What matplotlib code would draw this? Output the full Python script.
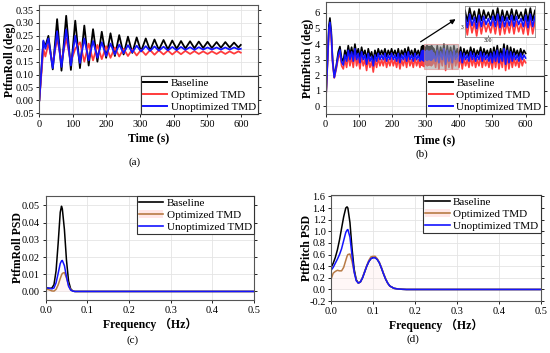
import numpy as np
import matplotlib
matplotlib.use('Agg')
import matplotlib.pyplot as plt
from matplotlib.patches import Patch, Rectangle
from matplotlib.lines import Line2D

plt.rcParams['font.family'] = ['Liberation Serif', 'Noto Sans CJK SC']
plt.rcParams['axes.unicode_minus'] = True

###############################################################################
# data
###############################################################################
labels = ['Baseline', 'Optimized TMD', 'Unoptimized TMD']

# (a) platform roll, extrema
roll_time = [0, 12, 18, 27, 40, 53, 66, 80, 94, 107, 121, 134, 147, 160, 173, 186,
             199, 212, 225, 238, 251, 264, 277, 290, 303, 317, 330, 343, 356, 370,
             383, 396, 409, 422, 435, 449, 462, 475, 488, 501, 514, 528, 541, 554,
             567, 580, 593, 600]
roll_base = [0, 0.228, 0.21, 0.25, 0.12, 0.315, 0.115, 0.328, 0.118, 0.309, 0.125,
             0.29, 0.135, 0.276, 0.15, 0.266, 0.165, 0.26, 0.172, 0.253, 0.178,
             0.247, 0.184, 0.244, 0.19, 0.24, 0.193, 0.236, 0.196, 0.234, 0.198,
             0.232, 0.2, 0.23, 0.201, 0.229, 0.202, 0.228, 0.203, 0.227, 0.203,
             0.226, 0.204, 0.226, 0.205, 0.224, 0.205, 0.215]
roll_opt = [0, 0.2, 0.17, 0.22, 0.14, 0.24, 0.15, 0.24, 0.15, 0.2, 0.225, 0.15,
            0.22, 0.155, 0.215, 0.16, 0.21, 0.165, 0.205, 0.17, 0.2, 0.172, 0.198,
            0.174, 0.196, 0.176, 0.195, 0.177, 0.194, 0.178, 0.193, 0.178, 0.192,
            0.179, 0.192, 0.18, 0.191, 0.18, 0.19, 0.18, 0.19, 0.18, 0.19, 0.18,
            0.19, 0.181, 0.19, 0.185]
roll_unopt = [0, 0.232, 0.2, 0.24, 0.125, 0.268, 0.13, 0.275, 0.135, 0.25, 0.145,
              0.24, 0.155, 0.23, 0.165, 0.225, 0.172, 0.22, 0.178, 0.216, 0.183,
              0.214, 0.186, 0.212, 0.19, 0.21, 0.192, 0.209, 0.193, 0.208, 0.194,
              0.207, 0.195, 0.207, 0.196, 0.206, 0.196, 0.206, 0.197, 0.205, 0.197,
              0.205, 0.197, 0.205, 0.197, 0.205, 0.198, 0.2]

# (b) platform pitch: start-up transient, then oscillating band
pitch_t0 = [0, 5, 10, 13, 17, 21, 26, 32, 38, 43, 48, 53]
pitch_base0 = [0, 2.6, 5.2, 5.68, 4.8, 3.0, 1.88, 2.6, 3.5, 3.84, 3.1, 2.88]
pitch_opt0 = [0, 2.4, 4.8, 5.15, 4.4, 2.8, 1.82, 2.4, 3.1, 3.4, 2.6, 2.4]
pitch_unopt0 = [0, 2.5, 5.0, 5.4, 4.6, 2.9, 1.85, 2.5, 3.3, 3.62, 2.85, 2.65]

# samples every 5 s from 58 s
pitch_base1 = [3.6, 3.2, 3.9, 3.3, 3.8, 3.2, 4.0, 3.3, 3.7, 3.1,
               3.8, 3.3, 3.6, 3.0, 3.7, 3.2, 3.5, 2.9, 3.6, 3.2,
               3.7, 3.3, 3.6, 3.3, 3.7, 3.2, 3.6, 3.3, 3.7, 3.3,
               3.6, 3.2, 3.7, 3.1, 3.6, 3.3, 3.7, 3.2, 3.8, 3.3,
               3.6, 3.2, 3.7, 3.3, 3.6, 3.2]
pitch_opt1 = [3.0, 2.5, 3.3, 2.6, 3.2, 2.5, 3.4, 2.6, 3.1, 2.4,
              3.2, 2.6, 3.0, 2.3, 3.1, 2.5, 2.9, 2.2, 3.0, 2.5,
              3.1, 2.6, 3.0, 2.6, 3.1, 2.5, 3.0, 2.6, 3.1, 2.6,
              3.0, 2.5, 3.1, 2.4, 3.0, 2.6, 3.1, 2.5, 3.2, 2.6,
              3.0, 2.5, 3.1, 2.6, 3.0, 2.5]
pitch_unopt1 = [3.3, 2.9, 3.6, 3.0, 3.5, 2.9, 3.7, 3.0, 3.4, 2.8,
                3.5, 3.0, 3.3, 2.7, 3.4, 2.9, 3.2, 2.6, 3.3, 2.9,
                3.4, 3.0, 3.3, 3.0, 3.4, 2.9, 3.3, 3.0, 3.4, 3.0,
                3.3, 2.9, 3.4, 2.8, 3.3, 3.0, 3.4, 2.9, 3.5, 3.0,
                3.3, 2.9, 3.4, 3.0, 3.3, 2.9]

# detail window (zoomed inset), every 1 s from 288 s
pitch_base2 = [3.85, 3.3, 3.8, 3.25, 3.9, 3.35, 3.75, 3.2, 3.85, 3.3,
               3.8, 3.4, 3.7, 3.35, 3.8, 3.3, 3.9, 3.25, 3.8, 3.3,
               3.75, 3.35, 3.85, 3.3, 3.8, 3.4, 3.7, 3.3, 3.85, 3.25,
               3.9, 3.3, 3.8, 3.35, 3.75]
pitch_opt2 = [3.3, 2.65, 3.25, 2.6, 3.35, 2.7, 3.2, 2.55, 3.3, 2.65,
              3.25, 2.75, 3.15, 2.7, 3.25, 2.65, 3.35, 2.6, 3.25, 2.65,
              3.2, 2.7, 3.3, 2.65, 3.25, 2.75, 3.15, 2.65, 3.3, 2.6,
              3.35, 2.65, 3.25, 2.7, 3.2]
pitch_unopt2 = [3.55, 3.0, 3.5, 2.95, 3.6, 3.05, 3.45, 2.9, 3.55, 3.0,
                3.5, 3.1, 3.4, 3.05, 3.5, 3.0, 3.6, 2.95, 3.5, 3.0,
                3.45, 3.05, 3.55, 3.0, 3.5, 3.1, 3.4, 3.0, 3.55, 2.95,
                3.6, 3.0, 3.5, 3.05, 3.45]

# samples every 5 s from 325 s
pitch_base3 = [3.7, 3.2, 3.9, 3.1, 3.8, 3.3, 4.0, 3.0, 3.9, 3.2,
               3.8, 3.1, 3.9, 3.3, 3.7, 3.2, 3.8, 3.1, 3.7, 3.3,
               3.6, 3.2, 3.8, 3.3, 3.7, 3.2, 3.6, 3.3, 3.8, 3.2,
               3.7, 3.3, 3.6, 3.2, 3.7, 3.1, 3.8, 3.2, 3.9, 3.1,
               3.7, 3.2, 4.0, 3.0, 3.9, 3.1, 3.8, 3.2, 3.7, 3.3,
               3.6, 3.2, 3.7, 3.3, 3.6, 3.4]
pitch_opt3 = [3.1, 2.5, 3.3, 2.4, 3.2, 2.6, 3.4, 2.3, 3.3, 2.5,
              3.2, 2.4, 3.3, 2.6, 3.1, 2.5, 3.2, 2.4, 3.1, 2.6,
              3.0, 2.5, 3.2, 2.6, 3.1, 2.5, 3.0, 2.6, 3.2, 2.5,
              3.1, 2.6, 3.0, 2.5, 3.1, 2.4, 3.2, 2.5, 3.3, 2.4,
              3.1, 2.5, 3.4, 2.3, 3.3, 2.4, 3.2, 2.5, 3.1, 2.6,
              3.0, 2.5, 3.1, 2.6, 3.0, 2.8]
pitch_unopt3 = [3.4, 2.9, 3.6, 2.8, 3.5, 3.0, 3.7, 2.7, 3.6, 2.9,
                3.5, 2.8, 3.6, 3.0, 3.4, 2.9, 3.5, 2.8, 3.4, 3.0,
                3.3, 2.9, 3.5, 3.0, 3.4, 2.9, 3.3, 3.0, 3.5, 2.9,
                3.4, 3.0, 3.3, 2.9, 3.4, 2.8, 3.5, 2.9, 3.6, 2.8,
                3.4, 2.9, 3.7, 2.7, 3.6, 2.8, 3.5, 2.9, 3.4, 3.0,
                3.3, 2.9, 3.4, 3.0, 3.3, 3.1]

# (c) roll PSD
roll_freq = [0, 0.005, 0.01, 0.015, 0.02, 0.025, 0.03, 0.035, 0.038, 0.04, 0.045,
             0.05, 0.055, 0.06, 0.065, 0.07, 0.08, 0.5]
roll_psd_base = [0.0022, 0.002, 0.0018, 0.002, 0.004, 0.012, 0.028, 0.046, 0.0495,
                 0.048, 0.036, 0.018, 0.006, 0.0015, 0.0003, 0, 0, 0]
roll_psd_opt = [0.0012, 0.0012, 0.0008, 0.0003, 0.0002, 0.0012, 0.0038, 0.0075,
                0.0095, 0.0105, 0.011, 0.0078, 0.0035, 0.001, 0.0002, 0, 0, 0]
roll_psd_unopt = [0.0022, 0.002, 0.0018, 0.0015, 0.002, 0.005, 0.0105, 0.0162,
                  0.0177, 0.018, 0.015, 0.0085, 0.003, 0.0008, 0.0002, 0, 0, 0]

# (d) pitch PSD
pitch_freq = [0, 0.005, 0.01, 0.015, 0.02, 0.025, 0.03, 0.035, 0.038, 0.04, 0.045,
              0.05, 0.055, 0.06, 0.065, 0.07, 0.075, 0.08, 0.085, 0.09, 0.095, 0.1,
              0.105, 0.11, 0.115, 0.12, 0.125, 0.13, 0.135, 0.14, 0.15, 0.16, 0.17,
              0.18, 0.5]
pitch_psd_base = [0.38, 0.45, 0.55, 0.68, 0.85, 1.05, 1.25, 1.4, 1.42, 1.4, 1.15,
                  0.7, 0.35, 0.17, 0.11, 0.13, 0.2, 0.3, 0.4, 0.48, 0.53, 0.55, 0.55,
                  0.52, 0.46, 0.37, 0.27, 0.18, 0.11, 0.06, 0.02, 0.008, 0.003, 0, 0]
pitch_psd_opt = [0.18, 0.28, 0.31, 0.33, 0.32, 0.32, 0.38, 0.5, 0.57, 0.6, 0.61,
                 0.48, 0.3, 0.16, 0.11, 0.13, 0.21, 0.31, 0.41, 0.5, 0.56, 0.57,
                 0.57, 0.53, 0.47, 0.38, 0.28, 0.19, 0.11, 0.06, 0.02, 0.008, 0.003,
                 0, 0]
pitch_psd_unopt = [0.33, 0.38, 0.45, 0.52, 0.6, 0.7, 0.84, 0.98, 1.02, 1.03, 0.9,
                   0.58, 0.3, 0.15, 0.11, 0.13, 0.2, 0.3, 0.4, 0.48, 0.53, 0.545,
                   0.545, 0.515, 0.46, 0.37, 0.27, 0.18, 0.11, 0.06, 0.02, 0.008,
                   0.003, 0, 0]

###############################################################################
# styles
###############################################################################
c_base = '#000000'
c_opt = '#ff3b3b'
c_unopt = '#1414ff'
c_opt_psd = '#b87a45'
pink = '#ffe6e6'

tick_fs = 7.5
label_fs = 8.5
leg_fs = 8


def pitch_series(v0, v1, v2, v3):
    t = np.concatenate([pitch_t0,
                        58 + 5 * np.arange(len(v1)),
                        288 + np.arange(len(v2)),
                        325 + 5 * np.arange(len(v3))])
    v = np.concatenate([v0, v1, v2, v3])
    return t, v


def style(ax):
    ax.grid(True, color='#e4e4e4', lw=0.6)
    ax.set_axisbelow(True)
    ax.tick_params(labelsize=tick_fs, direction='out', length=2.5, width=0.6,
                   right=True, top=False, pad=1.5)
    for s in ax.spines.values():
        s.set_color('#555555')
        s.set_linewidth(0.8)


def labels_xy(ax, xlabel, ylabel, xpos, ypos):
    ax.set_xlabel(xlabel, fontsize=label_fs, fontweight='bold')
    ax.set_ylabel(ylabel, fontsize=label_fs, fontweight='bold')
    ax.xaxis.set_label_coords(0.5, xpos)
    ax.yaxis.set_label_coords(ypos, 0.5)
    ax.xaxis.label.set_va('center')
    ax.yaxis.label.set_va('center')


def legend(ax, handles, loc):
    lg = ax.legend(handles, labels, loc=loc, fontsize=leg_fs, frameon=True,
                   fancybox=False, framealpha=1, edgecolor='#333333',
                   borderaxespad=0, borderpad=0.2, handlelength=2.2,
                   handletextpad=0.3, labelspacing=0.2)
    lg.get_frame().set_linewidth(0.8)


fig = plt.figure(figsize=(5.5, 3.53), dpi=100)

# (a)
ax = fig.add_axes([0.0715, 0.677, 0.398, 0.309])
style(ax)
ax.plot(roll_time, roll_base, color=c_base, lw=1.3)
ax.plot(roll_time, roll_opt, color=c_opt, lw=1.3)
ax.plot(roll_time, roll_unopt, color=c_unopt, lw=1.3)
ax.set_xlim(0, 652)
ax.set_ylim(-0.053, 0.37)
ax.set_xticks(np.arange(0, 601, 100))
ax.set_yticks(np.arange(-0.05, 0.351, 0.05))
ax.set_yticklabels(['%.2f' % v if abs(v) > 1e-9 else '0.00' for v in np.arange(-0.05, 0.351, 0.05)])
labels_xy(ax, 'Time (s)', 'PtfmRoll (deg)', -0.22, -0.132)
h = [Line2D([], [], color=c, lw=1.4) for c in (c_base, c_opt, c_unopt)]
legend(ax, h, 'lower right')
fig.text(135 / 550, 1 - 162 / 353, '(a)', ha='center', va='center', fontsize=8)

# (b)
ax = fig.add_axes([0.592, 0.677, 0.397, 0.317])
style(ax)
for vals, c in (((pitch_base0, pitch_base1, pitch_base2, pitch_base3), c_base),
                ((pitch_opt0, pitch_opt1, pitch_opt2, pitch_opt3), c_opt),
                ((pitch_unopt0, pitch_unopt1, pitch_unopt2, pitch_unopt3), c_unopt)):
    t, v = pitch_series(*vals)
    ax.plot(t, v, color=c, lw=1.2)
ax.add_patch(Rectangle((295, 2.4), 103, 1.6, facecolor='#a0a0a0', alpha=0.55,
                       edgecolor='#e08080', lw=0.8, zorder=5))
ax.set_xlim(0, 655)
ax.set_ylim(-0.5, 6.7)
ax.set_xticks(np.arange(0, 601, 100))
ax.set_yticks(np.arange(0, 7, 1))
labels_xy(ax, 'Time (s)', 'PtfmPitch (deg)', -0.232, -0.081)
legend(ax, h, 'lower right')
ax.annotate('', xy=(397, 5.7), xytext=(278, 4.05),
            arrowprops=dict(arrowstyle='-|>', color='black', lw=0.9,
                            mutation_scale=7))
axi = fig.add_axes([465 / 550, 1 - 37 / 353, 70 / 550, 31 / 353])
for vals, c in (((pitch_base0, pitch_base1, pitch_base2, pitch_base3), c_base),
                ((pitch_opt0, pitch_opt1, pitch_opt2, pitch_opt3), c_opt),
                ((pitch_unopt0, pitch_unopt1, pitch_unopt2, pitch_unopt3), c_unopt)):
    t, v = pitch_series(*vals)
    axi.plot(t, v, color=c, lw=1.2)
axi.set_xlim(290, 320)
axi.set_ylim(2.5, 4.0)
axi.set_xticks([300])
axi.set_yticks([3])
axi.tick_params(labelsize=4, length=1.5, width=0.4, pad=1, direction='in')
for s in axi.spines.values():
    s.set_linewidth(0.5)
    s.set_color('#777777')
fig.text(422 / 550, 1 - 154 / 353, '(b)', ha='center', va='center', fontsize=8)

# (c)
h2 = [Line2D([], [], color=c_base, lw=1.2),
      (Patch(facecolor=pink, edgecolor='none'), Line2D([], [], color=c_opt_psd, lw=1.2)),
      Line2D([], [], color=c_unopt, lw=1.2)]
ax = fig.add_axes([0.083, 0.150, 0.379, 0.295])
style(ax)
ax.fill_between(roll_freq, roll_psd_opt, 0, color=pink, alpha=0.35, lw=0)
ax.plot(roll_freq, roll_psd_base, color=c_base, lw=1.1)
ax.plot(roll_freq, roll_psd_opt, color=c_opt_psd, lw=1.1)
ax.plot(roll_freq, roll_psd_unopt, color=c_unopt, lw=1.1)
ax.set_xlim(0, 0.5)
ax.set_ylim(-0.005, 0.0555)
ax.set_xticks(np.arange(0, 0.51, 0.1))
ax.set_xticklabels(['%.1f' % v for v in np.arange(0, 0.51, 0.1)])
ax.set_yticks(np.arange(0, 0.051, 0.01))
ax.set_yticklabels(['%.2f' % v for v in np.arange(0, 0.051, 0.01)])
labels_xy(ax, 'Frequency （Hz）', 'PtfmRoll PSD', -0.231, -0.135)
legend(ax, h2, 'upper right')
fig.text(133 / 550, 1 - 340 / 353, '(c)', ha='center', va='center', fontsize=8)

# (d)
ax = fig.add_axes([0.602, 0.147, 0.381, 0.300])
style(ax)
ax.fill_between(pitch_freq, pitch_psd_opt, 0, color=pink, alpha=0.3, lw=0)
ax.plot(pitch_freq, pitch_psd_base, color=c_base, lw=1.1)
ax.plot(pitch_freq, pitch_psd_opt, color=c_opt_psd, lw=1.1)
ax.plot(pitch_freq, pitch_psd_unopt, color=c_unopt, lw=1.1)
ax.set_xlim(0, 0.5)
ax.set_ylim(-0.2, 1.62)
ax.set_xticks(np.arange(0, 0.51, 0.1))
ax.set_xticklabels(['%.1f' % v for v in np.arange(0, 0.51, 0.1)])
ax.set_yticks(np.arange(-0.2, 1.61, 0.2))
ax.set_yticklabels(['%.1f' % v if abs(v) > 1e-9 else '0.0' for v in np.arange(-0.2, 1.61, 0.2)])
labels_xy(ax, 'Frequency （Hz）', 'PtfPitch PSD', -0.226, -0.116)
legend(ax, h2, 'upper right')
fig.text(413 / 550, 1 - 339 / 353, '(d)', ha='center', va='center', fontsize=8)

fig.savefig('out.png', dpi=100)
